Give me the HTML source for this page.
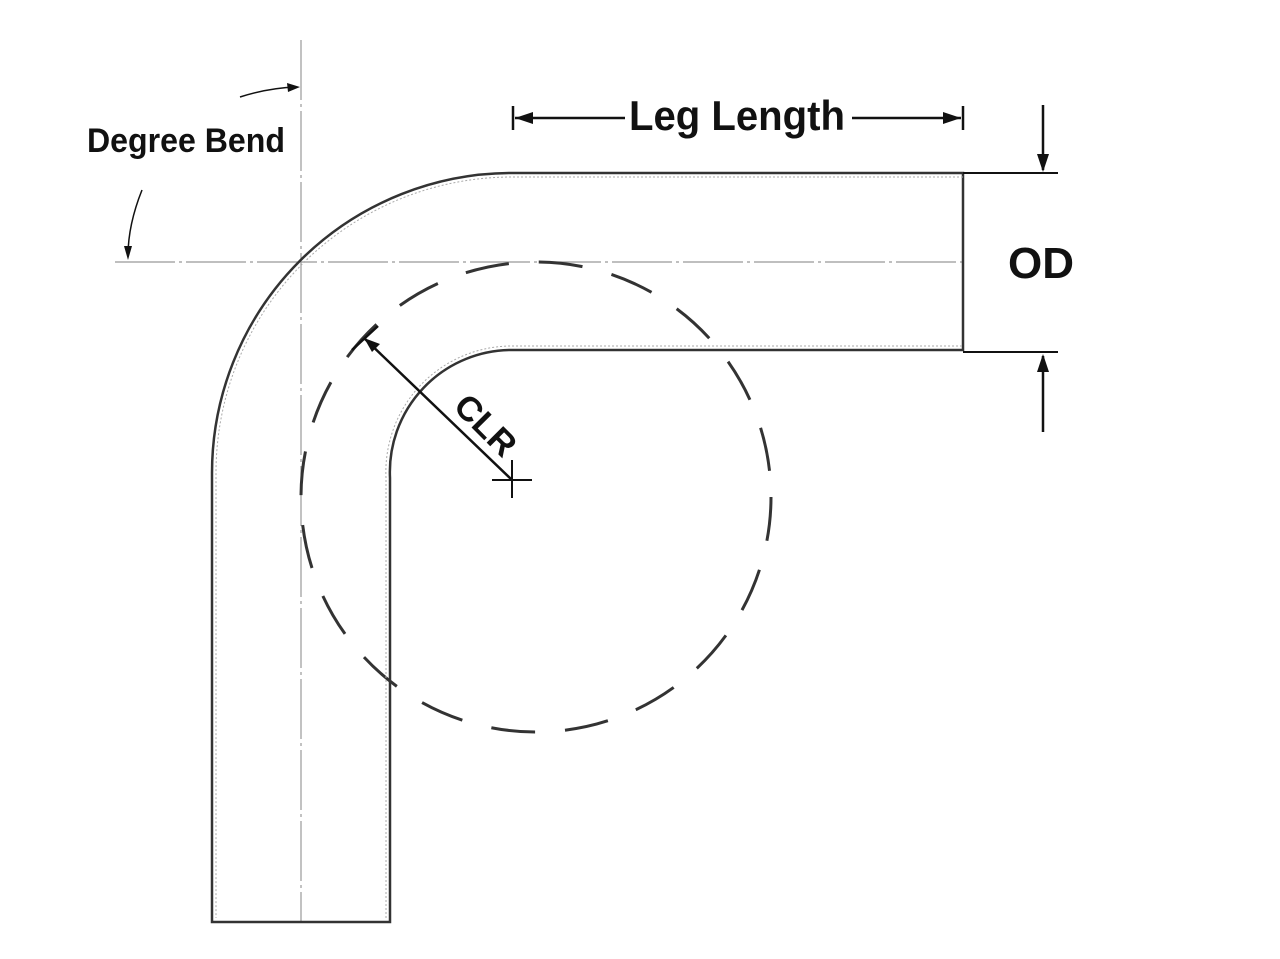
<!DOCTYPE html>
<html><head><style>html,body{margin:0;padding:0;background:#fff}svg{display:block}</style></head>
<body>
<svg width="1280" height="959" viewBox="0 0 1280 959" xmlns="http://www.w3.org/2000/svg">
<rect width="1280" height="959" fill="#fff"/>
<line x1="301" y1="40" x2="301" y2="922" stroke="#999" stroke-width="1.2" stroke-dasharray="60 4 3 4"/>
<line x1="115" y1="262" x2="963" y2="262" stroke="#999" stroke-width="1.2" stroke-dasharray="60 4 3 4"/>
<circle cx="536" cy="497" r="235" fill="none" stroke="#333" stroke-width="3" stroke-dasharray="44 30"/>
<path d="M963 173 L512 173 A300 300 0 0 0 212 473 L212 922 L390 922 L390 478 A122 122 0 0 1 512 350 L963 350 Z" fill="none" stroke="#333" stroke-width="2.5"/>
<path d="M963 177 L512 177 A296 296 0 0 0 216 473 L216 918 M386 918 L386 478 A126 126 0 0 1 512 346 L963 346" fill="none" stroke="#aaa" stroke-width="1" stroke-dasharray="2 2"/>
<line x1="512" y1="480" x2="364" y2="338" stroke="#111" stroke-width="2.5"/>
<path d="M364 338 L380 344 L372 352 Z" fill="#111"/>
<line x1="352" y1="350" x2="378" y2="326" stroke="#111" stroke-width="2.5"/>
<line x1="492" y1="480" x2="532" y2="480" stroke="#111" stroke-width="2"/>
<line x1="512" y1="460" x2="512" y2="498" stroke="#111" stroke-width="2"/>
<text x="0" y="0" transform="translate(452,408) rotate(45)" font-family="Liberation Sans, sans-serif" font-size="34" font-weight="bold" fill="#111" textLength="72" lengthAdjust="spacingAndGlyphs">CLR</text>
<line x1="513" y1="106" x2="513" y2="130" stroke="#111" stroke-width="2.5"/>
<line x1="963" y1="106" x2="963" y2="130" stroke="#111" stroke-width="2.5"/>
<line x1="515" y1="118" x2="625" y2="118" stroke="#111" stroke-width="2.5"/>
<line x1="852" y1="118" x2="961" y2="118" stroke="#111" stroke-width="2.5"/>
<path d="M515 118 L533 112 L533 124 Z" fill="#111"/>
<path d="M961 118 L943 112 L943 124 Z" fill="#111"/>
<text x="629" y="130" font-family="Liberation Sans, sans-serif" font-size="42" font-weight="bold" fill="#111" textLength="216" lengthAdjust="spacingAndGlyphs">Leg Length</text>
<line x1="963" y1="173" x2="1058" y2="173" stroke="#111" stroke-width="2"/>
<line x1="963" y1="352" x2="1058" y2="352" stroke="#111" stroke-width="2"/>
<line x1="1043" y1="105" x2="1043" y2="170" stroke="#111" stroke-width="2.5"/>
<path d="M1043 172 L1037 154 L1049 154 Z" fill="#111"/>
<line x1="1043" y1="432" x2="1043" y2="356" stroke="#111" stroke-width="2.5"/>
<path d="M1043 354 L1037 372 L1049 372 Z" fill="#111"/>
<text x="1008" y="278" font-family="Liberation Sans, sans-serif" font-size="44" font-weight="bold" fill="#111">OD</text>
<text x="87" y="152" font-family="Liberation Sans, sans-serif" font-size="34" font-weight="bold" fill="#111" textLength="198" lengthAdjust="spacingAndGlyphs">Degree Bend</text>
<path d="M240 97 Q268 88 296 87" fill="none" stroke="#111" stroke-width="1.5"/>
<path d="M300 87 L287 83 L288 92 Z" fill="#111"/>
<path d="M142 190 Q128 225 128 256" fill="none" stroke="#111" stroke-width="1.5"/>
<path d="M128 260 L124 246 L132 246 Z" fill="#111"/>
</svg>
</body></html>
